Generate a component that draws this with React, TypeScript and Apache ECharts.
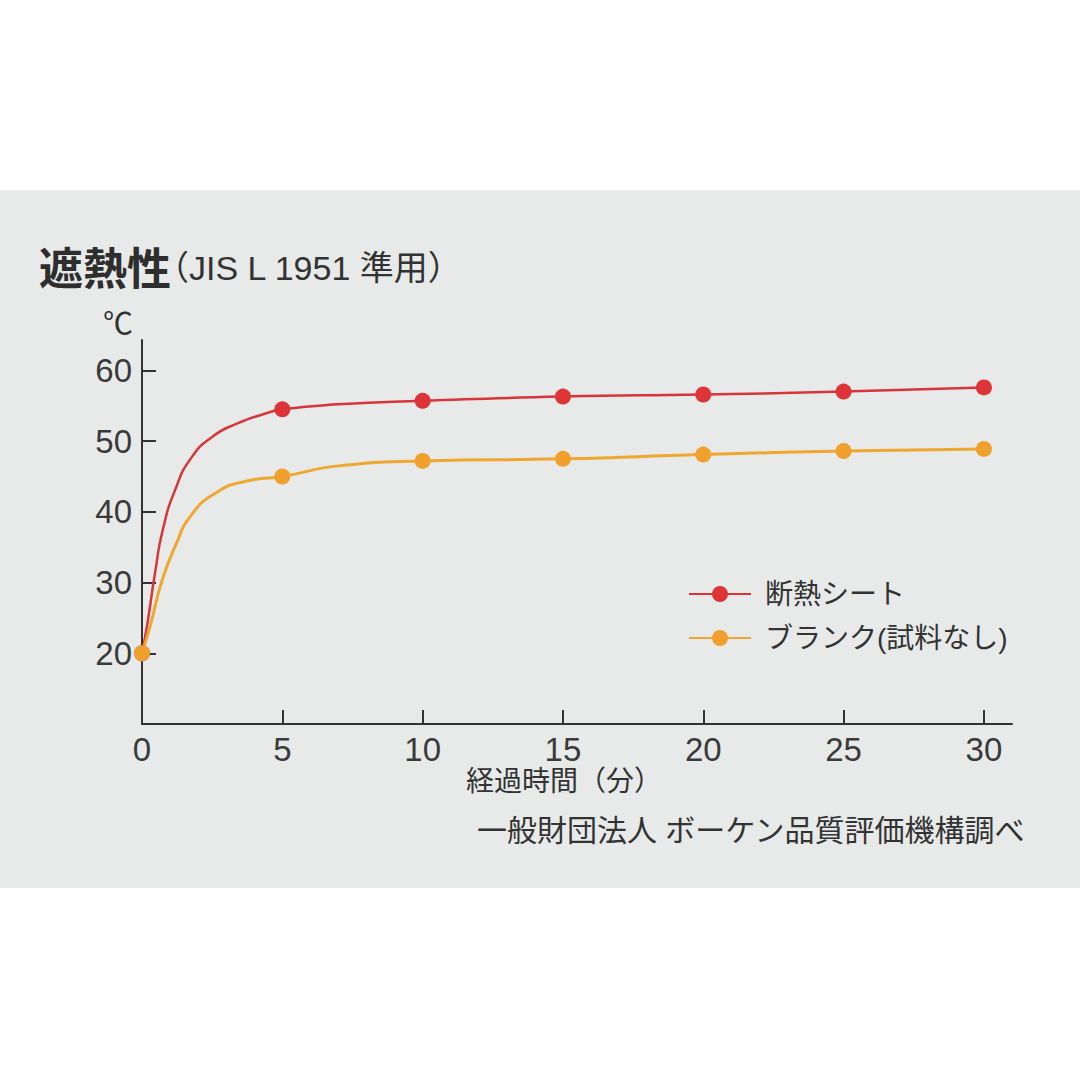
import React, { useEffect, useRef } from "react";
import * as echarts from "echarts";

// Measured points (minutes, °C)
const minutes = [0, 5, 10, 15, 20, 25, 30];
const sheetTemps = [20, 54.5, 55.7, 56.3, 56.6, 57.0, 57.6];
const blankTemps = [20, 45.0, 47.2, 47.5, 48.1, 48.6, 48.9];

// Points read along the drawn curves between measurements
const sheetCurve: [number, number][] = [
  [0.2, 24.4], [0.45, 31.0], [0.75, 37.6], [1.2, 43.3], [1.75, 47.6],
  [2.5, 50.6], [3.4, 52.5], [4.4, 53.9], [7, 55.2],
];
const blankCurve: [number, number][] = [
  [0.33, 24.4], [0.7, 30.1], [1.2, 35.3], [1.75, 39.5], [2.6, 42.6],
  [3.65, 44.3], [7, 46.5],
];

const xTicks = [0, 5, 10, 15, 20, 25, 30];
const yTicks = [20, 30, 40, 50, 60];

const seriesNames = ["断熱シート", "ブランク(試料なし)"];
const titleMain = "遮熱性";
const titleSub = "（JIS L 1951 準用）";
const yUnit = "℃";
const xName = "経過時間（分）";
const sourceText = "一般財団法人 ボーケン品質評価機構調べ";

const FONT = "'Liberation Sans', 'Noto Sans CJK JP', sans-serif";
const CJK = "'Noto Sans CJK JP', sans-serif";

function buildData(measured: number[], curve: [number, number][]) {
  const pts: any[] = [];
  minutes.forEach((m, i) => pts.push({ value: [m, measured[i]] }));
  curve.forEach((p) => pts.push({ value: p, symbol: "none" }));
  pts.sort((a, b) => a.value[0] - b.value[0]);
  return pts;
}

export default function App() {
  const ref = useRef<HTMLDivElement>(null);
  useEffect(() => {
    if (!ref.current) return;
    const chart = echarts.init(ref.current, null, { renderer: "svg" });
    const axisColor = "#333333";
    chart.setOption({
      animation: false,
      backgroundColor: "#ffffff",
      graphic: [
        {
          type: "rect",
          z: -10,
          shape: { x: 0, y: 190, width: 1080, height: 698 },
          style: { fill: "#e7eae9" },
        },
        {
          type: "text",
          x: 39,
          y: 266,
          style: {
            text: titleMain,
            font: `bold 44px ${CJK}`,
            fill: "#2e2e2e",
            verticalAlign: "middle",
          },
        },
        {
          type: "text",
          x: 155,
          y: 268,
          style: {
            text: titleSub,
            font: `34px ${FONT}`,
            fill: "#333333",
            verticalAlign: "middle",
          },
        },
        {
          type: "text",
          x: 103,
          y: 321,
          style: {
            text: yUnit,
            font: `30px ${CJK}`,
            fill: "#333333",
            verticalAlign: "middle",
          },
        },
        {
          type: "text",
          x: 466,
          y: 781,
          style: {
            text: xName,
            font: `28px ${FONT}`,
            fill: "#333333",
            verticalAlign: "middle",
          },
        },
        {
          type: "text",
          x: 477,
          y: 830,
          style: {
            text: sourceText,
            font: `30px ${FONT}`,
            fill: "#333333",
            verticalAlign: "middle",
          },
        },
      ],
      legend: {
        orient: "vertical",
        left: 683,
        top: 574,
        itemWidth: 62,
        itemHeight: 20,
        itemGap: 14,
        data: seriesNames,
        textStyle: {
          fontFamily: FONT,
          fontSize: 28,
          color: "#333333",
          lineHeight: 30,
          padding: [0, 0, 0, 9],
        },
      },
      grid: { left: 142, right: 68, top: 340, bottom: 356 },
      xAxis: {
        type: "value",
        min: 0,
        max: 31,
        interval: 5,
        axisLine: { show: true, lineStyle: { color: axisColor, width: 2 } },
        axisTick: { show: true, inside: true, length: 14, lineStyle: { color: axisColor, width: 2 } },
        axisLabel: {
          showMaxLabel: false,
          margin: 9,
          fontFamily: FONT,
          fontSize: 33,
          color: "#3a3a3a",
          formatter: (v: number) => (xTicks.includes(v) ? String(v) : ""),
        },
        splitLine: { show: false },
      },
      yAxis: {
        type: "value",
        min: 10,
        max: 64.3,
        interval: 10,
        axisLine: { show: true, lineStyle: { color: axisColor, width: 2 } },
        axisTick: { show: true, inside: true, length: 14, lineStyle: { color: axisColor, width: 2 } },
        axisLabel: {
          showMaxLabel: false,
          margin: 10,
          fontFamily: FONT,
          fontSize: 33,
          color: "#3a3a3a",
          formatter: (v: number) => (yTicks.includes(v) ? String(v) : ""),
        },
        splitLine: { show: false },
      },
      series: [
        {
          name: seriesNames[0],
          type: "line",
          smooth: 0.55,
          symbol: "circle",
          symbolSize: 16,
          itemStyle: { color: "#dc3437" },
          lineStyle: { color: "#d6353a", width: 2.5 },
          data: buildData(sheetTemps, sheetCurve),
        },
        {
          name: seriesNames[1],
          type: "line",
          smooth: 0.55,
          symbol: "circle",
          symbolSize: 16,
          itemStyle: { color: "#f0a02c" },
          lineStyle: { color: "#eea730", width: 3 },
          data: buildData(blankTemps, blankCurve),
        },
      ],
    });
    return () => chart.dispose();
  }, []);
  return (
    <div
      ref={ref}
      style={{ position: "fixed", left: 0, top: 0, width: 1080, height: 1080 }}
    />
  );
}
